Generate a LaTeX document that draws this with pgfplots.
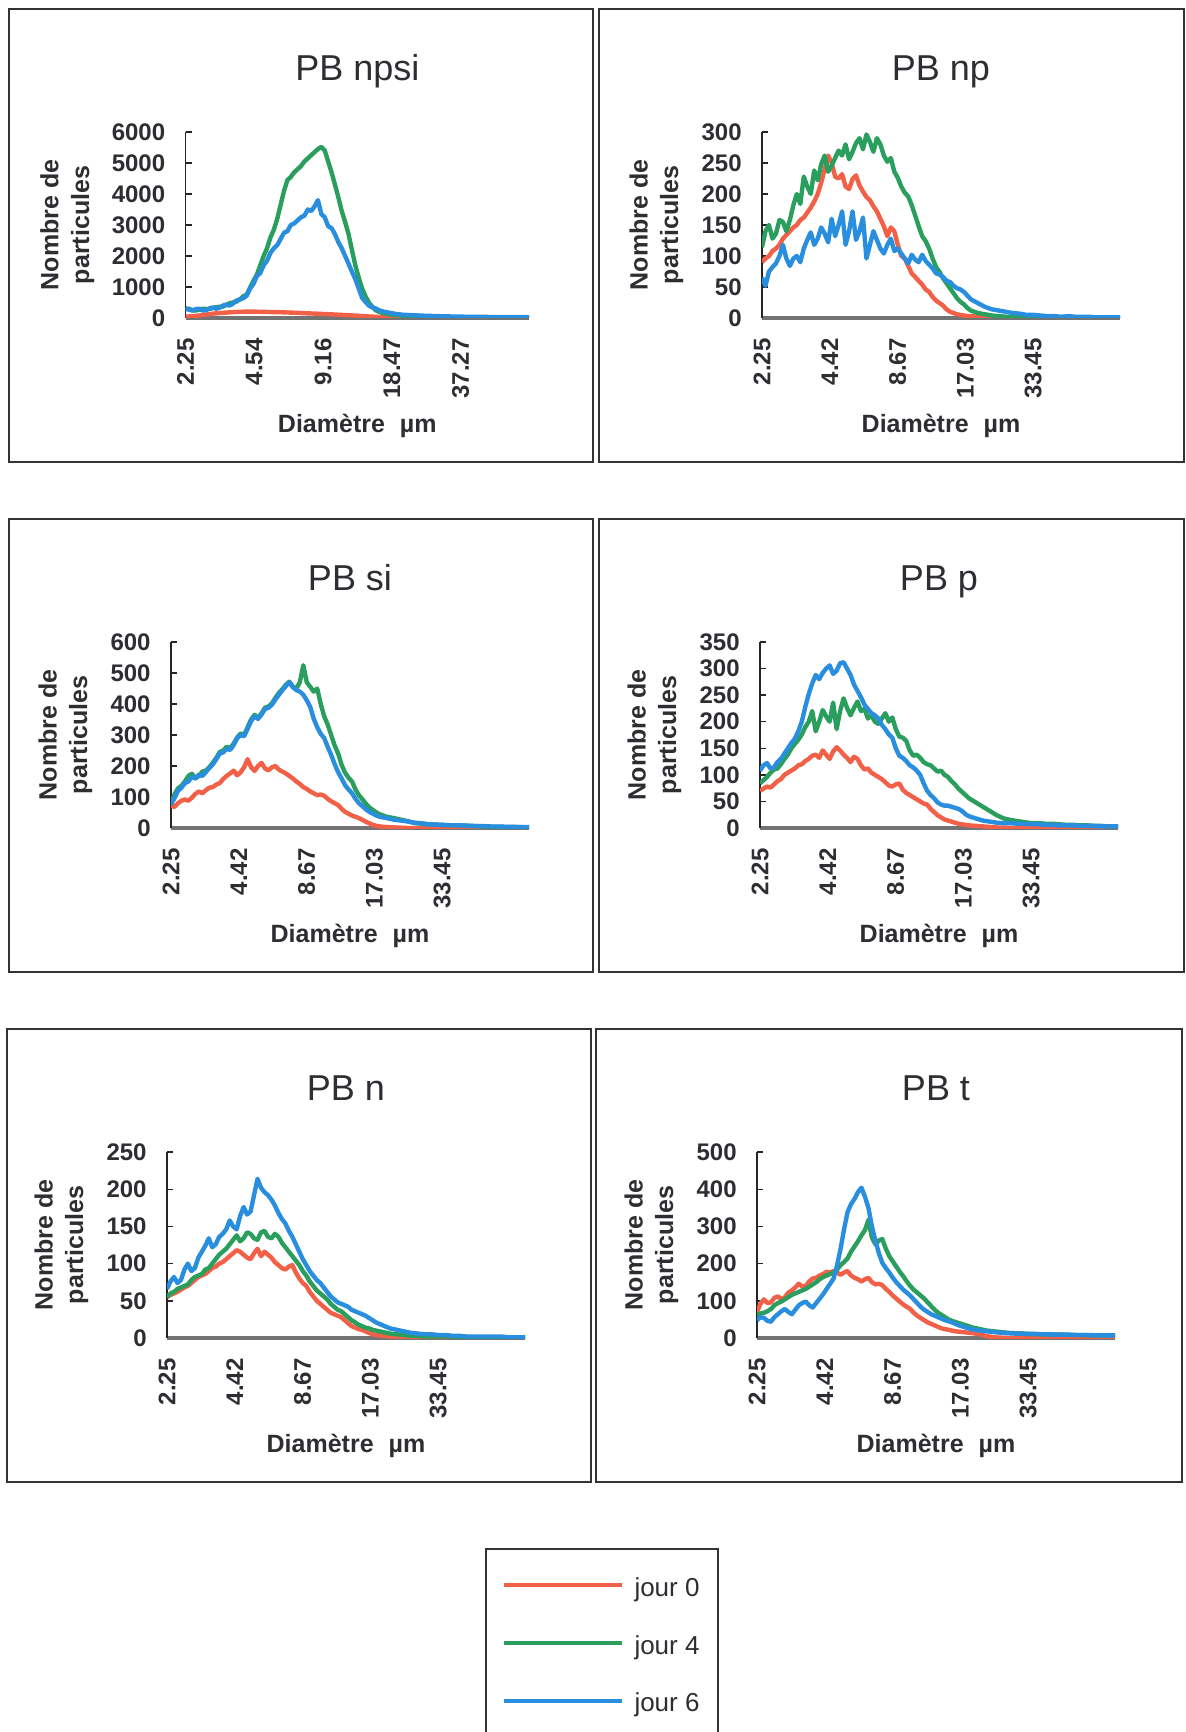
\documentclass[border=0pt]{standalone}
\usepackage{pgfplots}
\pgfplotsset{compat=1.18}
\usepackage{pgfplotstable}
\usepackage{fontspec}
\setmainfont{Liberation Sans}
\definecolor{cj0}{RGB}{242,96,72}
\definecolor{cj4}{RGB}{42,158,92}
\definecolor{cj6}{RGB}{42,142,222}
\definecolor{txt}{RGB}{45,45,50}
\pgfkeys{/pgf/number format/assume math mode=true, /pgf/number format/1000 sep={}}

% PB npsi
\pgfplotstableread{
d j0 j4 j6
2.250 40 280 320
2.329 50 300 270
2.412 60 250 240
2.497 70 240 290
2.585 80 270 300
2.676 95 300 240
2.770 110 290 250
2.868 125 290 310
2.969 140 320 340
3.074 150 350 300
3.182 160 360 330
3.294 168 370 400
3.410 175 420 430
3.531 182 480 400
3.655 190 500 470
3.784 195 530 560
3.917 200 600 600
4.055 203 700 640
4.199 205 750 720
4.347 205 980 950
4.500 205 1200 1100
4.659 203 1400 1350
4.823 200 1700 1450
4.993 198 2000 1700
5.169 195 2250 1850
5.351 192 2600 2100
5.540 190 2850 2250
5.735 188 3200 2350
5.938 185 3650 2550
6.147 182 4100 2750
6.364 178 4450 2800
6.588 174 4550 3000
6.821 170 4700 3050
7.061 165 4800 3150
7.310 160 4900 3250
7.568 155 5050 3300
7.835 150 5150 3500
8.111 146 5250 3450
8.397 142 5350 3600
8.693 137 5450 3800
9.000 132 5520 3350
9.317 127 5400 3250
9.646 122 5050 2960
9.986 117 4700 2900
10.34 112 4300 2700
10.70 106 3900 2450
11.08 100 3450 2250
11.47 95 3100 2000
11.88 90 2700 1750
12.29 84 2200 1500
12.73 78 1700 1250
13.18 71 1300 950
13.64 64 950 650
14.12 57 700 520
14.62 50 500 400
15.14 44 360 340
15.67 38 250 310
16.22 32 200 250
16.80 26 160 215
17.39 21 140 190
18.00 16 120 170
19.29 8 95 130
20.68 4 75 105
22.16 2 60 95
23.75 1 50 85
25.46 0 42 75
27.28 0 36 68
29.24 0 32 60
31.34 0 28 55
33.59 0 24 50
36.00 0 22 46
38.58 0 20 42
41.35 0 18 40
44.32 0 16 37
47.50 0 15 35
50.91 0 14 33
54.57 0 13 31
58.48 0 12 30
62.68 0 11 28
67.18 0 10 27
72.00 0 10 26
77.17 0 9 25
82.71 0 9 25
}\tabA

% PB np
\pgfplotstableread{
d j0 j4 j6
2.250 90 114 65
2.329 96 140 52
2.412 100 150 75
2.497 108 128 82
2.585 112 136 88
2.676 118 158 100
2.770 128 155 118
2.868 134 140 96
2.969 140 158 84
3.074 146 182 96
3.182 150 200 100
3.294 158 184 90
3.410 162 228 112
3.531 170 212 126
3.655 178 200 138
3.784 188 238 118
3.917 200 222 128
4.055 218 248 146
4.199 240 262 136
4.347 262 236 122
4.500 250 246 160
4.659 228 258 132
4.823 225 270 150
4.993 232 262 172
5.169 212 280 118
5.351 208 256 140
5.540 224 268 172
5.735 230 282 126
5.938 214 290 140
6.147 204 272 162
6.364 195 296 96
6.588 190 284 118
6.821 180 268 140
7.061 172 290 126
7.310 160 280 112
7.568 148 262 104
7.835 132 252 118
8.111 146 258 128
8.397 140 236 108
8.693 118 226 112
9.000 100 212 104
9.317 96 202 96
9.646 84 196 88
9.986 72 182 102
10.34 66 165 94
10.70 60 148 90
11.08 54 132 102
11.47 46 124 92
11.88 42 112 86
12.29 34 96 80
12.73 28 82 72
13.18 24 74 70
13.64 20 64 66
14.12 14 56 60
14.62 10 48 58
15.14 8 40 52
15.67 6 32 48
16.22 5 26 46
16.80 4 22 42
17.39 3 16 36
18.00 3 12 30
19.29 2 8 24
20.68 2 6 18
22.16 1 4 14
23.75 1 3 12
25.46 1 2 10
27.28 0 2 8
29.24 0 2 7
31.34 0 1 5
33.59 0 1 5
36.00 0 1 4
38.58 0 1 3
41.35 0 1 3
44.32 0 0 2
47.50 0 0 3
50.91 0 0 2
54.57 0 0 2
58.48 0 0 2
62.68 0 0 1
67.18 0 0 1
72.00 0 0 1
77.17 0 0 1
82.71 0 0 1
}\tabB

% PB si
\pgfplotstableread{
d j0 j4 j6
2.250 72 75 78
2.329 68 108 96
2.412 80 128 120
2.497 88 136 130
2.585 92 150 145
2.676 88 168 150
2.770 98 175 165
2.868 110 160 160
2.969 118 168 172
3.074 112 182 168
3.182 122 185 180
3.294 130 196 194
3.410 132 210 205
3.531 140 226 222
3.655 145 245 240
3.784 158 250 244
3.917 168 262 255
4.055 176 258 252
4.199 185 272 268
4.347 170 292 290
4.500 180 305 300
4.659 196 300 296
4.823 222 325 320
4.993 196 350 345
5.169 184 365 360
5.351 200 356 352
5.540 210 370 366
5.735 192 388 384
5.938 186 392 388
6.147 196 402 398
6.364 200 420 415
6.588 188 436 430
6.821 182 448 445
7.061 176 462 458
7.310 168 472 470
7.568 160 456 454
7.835 150 450 445
8.111 142 470 440
8.397 132 525 430
8.693 126 470 412
9.000 118 455 390
9.317 112 440 352
9.646 106 450 325
9.986 108 400 304
10.34 104 360 290
10.70 94 334 262
11.08 86 300 236
11.47 80 266 206
11.88 74 240 180
12.29 62 204 160
12.73 52 178 138
13.18 46 162 124
13.64 40 150 112
14.12 36 124 94
14.62 32 105 80
15.14 26 92 70
15.67 20 78 60
16.22 15 66 52
16.80 10 58 46
17.39 7 50 40
18.00 5 44 36
19.29 3 36 32
20.68 2 32 27
22.16 1 27 24
23.75 0 22 21
25.46 0 16 17
27.28 0 14 15
29.24 0 12 12
31.34 0 11 11
33.59 0 10 10
36.00 0 9 9
38.58 0 9 9
41.35 0 8 8
44.32 0 7 7
47.50 0 6 6
50.91 0 5 6
54.57 0 4 5
58.48 0 4 5
62.68 0 3 4
67.18 0 3 4
72.00 0 3 3
77.17 0 2 3
82.71 0 2 3
}\tabC

% PB p
\pgfplotstableread{
d j0 j4 j6
2.250 70 84 108
2.329 74 90 118
2.412 78 96 122
2.497 76 104 112
2.585 82 110 114
2.676 88 112 124
2.770 92 120 130
2.868 100 130 140
2.969 104 138 150
3.074 108 150 160
3.182 112 158 168
3.294 118 166 182
3.410 120 176 200
3.531 126 190 228
3.655 130 200 252
3.784 136 220 272
3.917 138 182 288
4.055 132 200 280
4.199 146 222 292
4.347 138 210 300
4.500 130 200 306
4.659 144 236 290
4.823 152 186 296
4.993 146 220 310
5.169 138 244 312
5.351 132 226 300
5.540 124 212 288
5.735 134 226 270
5.938 130 238 258
6.147 118 220 246
6.364 110 224 232
6.588 112 206 224
6.821 104 212 216
7.061 100 200 212
7.310 96 196 206
7.568 92 206 194
7.835 86 216 186
8.111 80 200 176
8.397 78 208 170
8.693 82 186 150
9.000 84 172 136
9.317 72 170 132
9.646 66 164 126
9.986 62 146 118
10.34 58 136 114
10.70 54 138 108
11.08 50 132 100
11.47 46 124 84
11.88 44 120 70
12.29 36 118 62
12.73 30 112 56
13.18 24 106 48
13.64 20 108 44
14.12 16 100 42
14.62 14 96 42
15.14 12 88 40
15.67 10 82 38
16.22 8 74 36
16.80 7 68 32
17.39 6 62 26
18.00 5 56 22
19.29 4 48 18
20.68 3 40 14
22.16 2 32 12
23.75 1 24 10
25.46 1 18 9
27.28 0 15 9
29.24 0 13 8
31.34 0 11 8
33.59 0 9 7
36.00 0 9 7
38.58 0 8 6
41.35 0 8 6
44.32 0 7 5
47.50 0 6 5
50.91 0 6 5
54.57 0 5 4
58.48 0 5 4
62.68 0 4 4
67.18 0 4 3
72.00 0 3 3
77.17 0 3 3
82.71 0 3 3
}\tabD

% PB n
\pgfplotstableread{
d j0 j4 j6
2.250 55 55 66
2.329 58 60 76
2.412 60 62 82
2.497 62 66 74
2.585 65 68 78
2.676 68 70 92
2.770 70 72 100
2.868 74 78 90
2.969 78 82 94
3.074 82 84 108
3.182 84 86 116
3.294 86 92 124
3.410 90 94 134
3.531 94 100 122
3.655 96 106 126
3.784 100 112 136
3.917 102 116 140
4.055 106 120 146
4.199 110 126 158
4.347 114 132 150
4.500 118 138 146
4.659 116 130 164
4.823 112 134 176
4.993 108 142 166
5.169 106 140 170
5.351 114 134 192
5.540 120 132 214
5.735 110 142 202
5.938 116 144 196
6.147 112 136 192
6.364 108 134 186
6.588 102 140 178
6.821 98 136 168
7.061 94 128 160
7.310 92 122 154
7.568 96 116 144
7.835 98 110 136
8.111 88 104 126
8.397 80 98 116
8.693 74 90 106
9.000 70 84 98
9.317 62 76 90
9.646 56 70 84
9.986 50 64 78
10.34 46 60 74
10.70 42 56 68
11.08 38 52 62
11.47 34 46 56
11.88 32 42 52
12.29 30 38 48
12.73 28 36 46
13.18 24 32 44
13.64 20 28 42
14.12 16 24 38
14.62 14 21 36
15.14 12 18 34
15.67 11 16 32
16.22 9 14 30
16.80 7 13 27
17.39 5 11 24
18.00 4 10 21
19.29 3 8 17
20.68 2 6 13
22.16 1 5 11
23.75 1 4 9
25.46 0 3 7
27.28 0 3 6
29.24 0 2 5
31.34 0 2 5
33.59 0 2 4
36.00 0 2 4
38.58 0 2 3
41.35 0 1 3
44.32 0 1 2
47.50 0 1 2
50.91 0 1 2
54.57 0 1 2
58.48 0 1 2
62.68 0 1 2
67.18 0 1 1
72.00 0 1 1
77.17 0 1 1
82.71 0 1 1
}\tabE

% PB t
\pgfplotstableread{
d j0 j4 j6
2.250 70 62 48
2.329 92 66 56
2.412 104 68 54
2.497 94 72 46
2.585 96 78 44
2.676 108 88 56
2.770 112 94 64
2.868 104 98 72
2.969 110 104 78
3.074 122 110 70
3.182 128 116 64
3.294 136 120 76
3.410 146 124 88
3.531 138 128 94
3.655 140 132 98
3.784 152 138 88
3.917 160 144 82
4.055 162 150 94
4.199 168 158 106
4.347 172 164 118
4.500 178 168 132
4.659 176 172 146
4.823 180 176 160
4.993 176 184 196
5.169 170 196 240
5.351 176 204 292
5.540 180 214 338
5.735 168 232 360
5.938 162 246 374
6.147 158 260 392
6.364 152 276 404
6.588 158 290 380
6.821 162 318 350
7.061 150 270 300
7.310 144 252 262
7.568 146 262 228
7.835 142 266 202
8.111 132 240 188
8.397 124 220 176
8.693 114 206 162
9.000 106 192 150
9.317 98 178 140
9.646 90 166 130
9.986 84 152 122
10.34 78 140 114
10.70 68 130 104
11.08 60 122 94
11.47 54 114 84
11.88 48 106 76
12.29 42 96 70
12.73 38 86 64
13.18 34 76 60
13.64 30 68 56
14.12 26 62 52
14.62 24 56 48
15.14 22 50 45
15.67 20 46 42
16.22 18 43 38
16.80 17 40 34
17.39 16 37 31
18.00 15 34 28
19.29 13 28 23
20.68 10 24 20
22.16 5 20 18
23.75 2 18 16
25.46 1 16 14
27.28 0 14 13
29.24 0 13 12
31.34 0 12 12
33.59 0 11 11
36.00 0 10 11
38.58 0 10 10
41.35 0 9 10
44.32 0 9 9
47.50 0 9 9
50.91 0 8 9
54.57 0 8 8
58.48 0 8 8
62.68 0 7 8
67.18 0 7 7
72.00 0 7 7
77.17 0 7 7
82.71 0 7 7
}\tabF

\pgfplotsset{
  every axis/.append style={
    axis x line*=bottom, axis y line*=left,
    axis line style={-},
    x axis line style={line width=1.6pt, draw=black!55},
    y axis line style={line width=0.7pt, draw=black!85},
    xtick style={draw=none},
    ytick style={line width=0.7pt, draw=black!85},
    tick align=inside, major tick length=3pt,
    xminorticks=false, yminorticks=false,
    scaled y ticks=false,
    ticklabel style={font=\bfseries\fontsize{12}{14}\selectfont, text=txt},
    xticklabel style={rotate=90, anchor=east, inner xsep=10pt},
    yticklabel style={inner xsep=10pt},
    title style={at={(axis description cs:0.5,1.215)}, anchor=base,
      font=\fontsize{18}{21}\selectfont, text=txt},
    xlabel style={at={(axis description cs:0.5,-0.618)}, anchor=base,
      font=\bfseries\fontsize{12.5}{15}\selectfont, text=txt},
    ylabel style={at={(axis description cs:-0.295,0.5)}, anchor=center,
      align=center, font=\bfseries\fontsize{12.5}{15.3}\selectfont, text=txt},
  },
  every axis plot/.append style={line width=2.2pt, line join=round},
}

\begin{document}
\begin{tikzpicture}
\path[use as bounding box] (0pt,0pt) rectangle (592.5pt,-866pt);
\begin{scope}[line width=0.8pt, draw=black!80]
\draw (4.5pt,-4.5pt) rectangle (296.5pt,-231pt);
\draw (299.5pt,-4.5pt) rectangle (592pt,-231pt);
\draw (4.5pt,-259.5pt) rectangle (296.5pt,-486pt);
\draw (299.5pt,-259.5pt) rectangle (592pt,-486pt);
\draw (3.5pt,-514.5pt) rectangle (295.5pt,-741pt);
\draw (298pt,-514.5pt) rectangle (591pt,-741pt);
\draw (243pt,-870pt) -- (243pt,-774.5pt) -- (359pt,-774.5pt) -- (359pt,-870pt);
\end{scope}

% PB npsi
\begin{axis}[anchor=south west, at={(92.8pt,-159pt)},
  scale only axis, width=171.7pt, height=93pt,
  xmode=log, log basis x=2, xmin=2.25, xmax=75,
  ymin=0, ymax=6000, ytick={0,1000,...,6000},
  xtick={2.25,4.54,9.16,18.47,37.27},
  xticklabels={2.25,4.54,9.16,18.47,37.27},
  ylabel style={at={(axis description cs:-0.3445,0.5)}},
  title={PB npsi}, xlabel={Diamètre\hspace{0.6em}µm}, ylabel={Nombre de\\particules}]
\addplot[cj0, no markers] table[x=d,y=j0] {\tabA};
\addplot[cj4, no markers] table[x=d,y=j4] {\tabA};
\addplot[cj6, no markers] table[x=d,y=j6] {\tabA};
\end{axis}

% PB np
\begin{axis}[anchor=south west, at={(381pt,-159pt)},
  scale only axis, width=179pt, height=93pt,
  xmode=log, log basis x=2, xmin=2.25, xmax=79.4,
  xtick={2.25,4.42,8.67,17.03,33.45},
  xticklabels={2.25,4.42,8.67,17.03,33.45},
  ymin=0, ymax=300, ytick={0,50,...,300},
  title={PB np}, xlabel={Diamètre\hspace{0.6em}µm}, ylabel={Nombre de\\particules}]
\addplot[cj0, no markers] table[x=d,y=j0] {\tabB};
\addplot[cj4, no markers] table[x=d,y=j4] {\tabB};
\addplot[cj6, no markers] table[x=d,y=j6] {\tabB};
\end{axis}

% PB si
\begin{axis}[anchor=south west, at={(85.5pt,-414pt)},
  scale only axis, width=179pt, height=93pt,
  xmode=log, log basis x=2, xmin=2.25, xmax=79.4,
  xtick={2.25,4.42,8.67,17.03,33.45},
  xticklabels={2.25,4.42,8.67,17.03,33.45},
  ymin=0, ymax=600, ytick={0,100,...,600},
  title={PB si}, xlabel={Diamètre\hspace{0.6em}µm}, ylabel={Nombre de\\particules}]
\addplot[cj0, no markers] table[x=d,y=j0] {\tabC};
\addplot[cj4, no markers] table[x=d,y=j4] {\tabC};
\addplot[cj6, no markers] table[x=d,y=j6] {\tabC};
\end{axis}

% PB p
\begin{axis}[anchor=south west, at={(380pt,-414pt)},
  scale only axis, width=179pt, height=93pt,
  xmode=log, log basis x=2, xmin=2.25, xmax=79.4,
  xtick={2.25,4.42,8.67,17.03,33.45},
  xticklabels={2.25,4.42,8.67,17.03,33.45},
  ymin=0, ymax=350, ytick={0,50,...,350},
  title={PB p}, xlabel={Diamètre\hspace{0.6em}µm}, ylabel={Nombre de\\particules}]
\addplot[cj0, no markers] table[x=d,y=j0] {\tabD};
\addplot[cj4, no markers] table[x=d,y=j4] {\tabD};
\addplot[cj6, no markers] table[x=d,y=j6] {\tabD};
\end{axis}

% PB n
\begin{axis}[anchor=south west, at={(83.5pt,-669pt)},
  scale only axis, width=179pt, height=93pt,
  xmode=log, log basis x=2, xmin=2.25, xmax=79.4,
  xtick={2.25,4.42,8.67,17.03,33.45},
  xticklabels={2.25,4.42,8.67,17.03,33.45},
  ymin=0, ymax=250, ytick={0,50,...,250},
  title={PB n}, xlabel={Diamètre\hspace{0.6em}µm}, ylabel={Nombre de\\particules}]
\addplot[cj0, no markers] table[x=d,y=j0] {\tabE};
\addplot[cj4, no markers] table[x=d,y=j4] {\tabE};
\addplot[cj6, no markers] table[x=d,y=j6] {\tabE};
\end{axis}

% PB t
\begin{axis}[anchor=south west, at={(378.5pt,-669pt)},
  scale only axis, width=179pt, height=93pt,
  xmode=log, log basis x=2, xmin=2.25, xmax=79.4,
  xtick={2.25,4.42,8.67,17.03,33.45},
  xticklabels={2.25,4.42,8.67,17.03,33.45},
  ymin=0, ymax=500, ytick={0,100,...,500},
  title={PB t}, xlabel={Diamètre\hspace{0.6em}µm}, ylabel={Nombre de\\particules},
  legend style={at={(axis description cs:-0.757,-1.177)}, anchor=north west,
    draw=none, fill=none, font=\fontsize{13}{15}\selectfont, text=txt,
    inner xsep=8pt, inner ysep=8pt, row sep=14pt, nodes={inner sep=2pt}},
  legend cell align=left,
  legend image code/.code={\draw[#1, line width=1.9pt] (0pt,1.5pt) -- (59pt,1.5pt);
    \path (62pt,1.5pt);}]
\addplot[cj0, no markers] table[x=d,y=j0] {\tabF};
\addplot[cj4, no markers] table[x=d,y=j4] {\tabF};
\addplot[cj6, no markers] table[x=d,y=j6] {\tabF};
\legend{jour 0, jour 4, jour 6}
\end{axis}
\end{tikzpicture}
\end{document}
